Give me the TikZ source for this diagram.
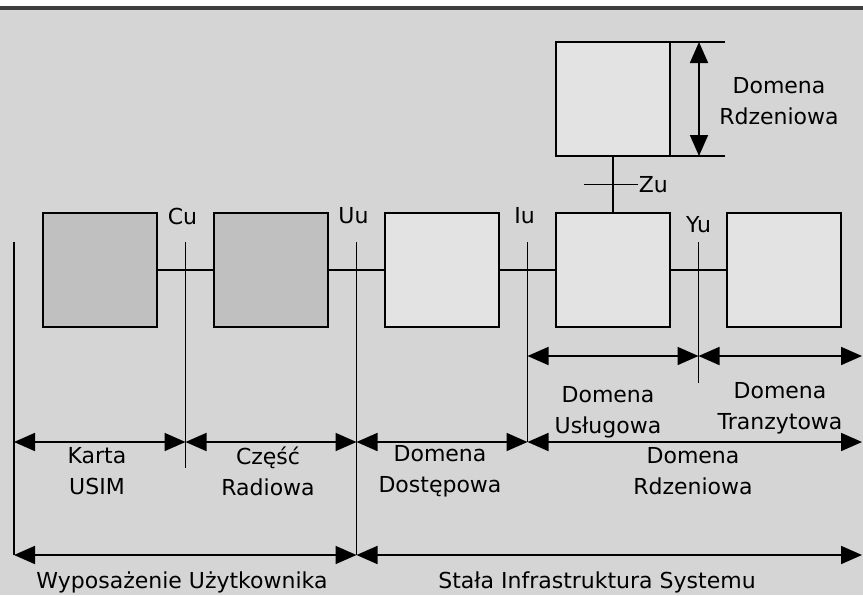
\documentclass[tikz,border=0pt]{standalone}
\usepackage{fontspec}
\setmainfont{DejaVu Sans}
\usetikzlibrary{arrows.meta,positioning,calc}

\definecolor{panelgrey}{RGB}{213,213,213}
\definecolor{boxlight}{RGB}{227,227,227}
\definecolor{boxdark}{RGB}{192,192,192}
\definecolor{bandgrey}{RGB}{62,62,62}

\begin{document}
\begin{tikzpicture}[
    x=1pt, y=-1pt,
    font=\fontsize{22}{31}\selectfont,
    blok/.style={rectangle, draw, line width=1.8pt, minimum width=114pt, minimum height=114pt, inner sep=0pt, outer sep=0pt},
    wire/.style={line width=1.8pt},
    dim/.style={line width=1.8pt, {Triangle[length=21pt,width=18pt]}-{Triangle[length=21pt,width=18pt]}},
    lbl/.style={align=center, inner sep=0pt},
    node distance=57pt
  ]
    % background panel
    \useasboundingbox (0,0) rectangle (863,595);
    \fill[white] (0,0) rectangle (863,595);
    \fill[bandgrey] (0,6) rectangle (863,10);
    \fill[panelgrey] (0,10) rectangle (863,595);

    % blocks
    \node[blok, fill=boxdark] (usim) at (100,270) {};
    \node[blok, fill=boxdark, right=of usim] (radio) {};
    \node[blok, fill=boxlight, right=of radio] (access) {};
    \node[blok, fill=boxlight, right=of access] (serving) {};
    \node[blok, fill=boxlight, right=of serving] (transit) {};
    \node[blok, fill=boxlight, above=of serving] (core) {};

    \draw[wire] (usim) -- (radio);
    \draw[wire] (radio) -- (access);
    \draw[wire] (access) -- (serving);
    \draw[wire] (serving) -- (transit);
    \draw[wire] (core) -- (serving);

    % reference points
    \foreach \a/\b/\n in {usim/radio/cu, radio/access/uu, access/serving/iu, serving/transit/yu}
      \coordinate (\n) at ($(\a.east)!.5!(\b.west)$);
    \coordinate (top) at (14,242);
    \coordinate (rowA) at (862,356);
    \coordinate (rowB) at (862,442);
    \coordinate (rowC) at (862,555);

    % interface lines
    \draw[wire] (top) -- (top |- rowC);
    \draw[wire] (cu |- top) -- ($(cu |- rowB)+(0,26)$);
    \draw[wire] (uu |- top) -- (uu |- rowC);
    \draw[wire] (iu |- top) -- (iu |- rowB);
    \draw[wire] (yu |- top) -- ($(yu |- rowA)+(0,27)$);

    \node (cul) at ($(cu |- top)+(-3,-26)$) {Cu};
    \node (uul) at ($(uu |- top)+(-3,-26)$) {Uu};
    \node (iul) at ($(iu |- top)+(-3,-26)$) {Iu};
    \node (yul) at ($(yu |- top)+(0,-17)$) {Yu};

    % Zu
    \coordinate (zu) at ($(core.south)!.5!(serving.north)$);
    \draw[wire] ($(zu)+(-29,0)$) -- ($(zu)+(25,0)$) node[right, inner sep=0pt] (zul) {Zu};

    % core domain height
    \draw[wire] (core.north east) -- ++(55,0);
    \draw[wire] (core.south east) -- ++(55,0);
    \draw[dim] ($(core.north east)+(29,0)$) -- ($(core.south east)+(29,0)$);
    \node[lbl] (coretxt) at (779,101) {Domena\\Rdzeniowa};

    % domain spans
    \draw[dim] (iu |- rowA) -- (yu |- rowA);
    \draw[dim] (yu |- rowA) -- (rowA);
    \draw[dim] (top |- rowB) -- (cu |- rowB);
    \draw[dim] (cu |- rowB) -- (uu |- rowB);
    \draw[dim] (uu |- rowB) -- (iu |- rowB);
    \draw[dim] (iu |- rowB) -- (rowB);
    \draw[dim] (top |- rowC) -- (uu |- rowC);
    \draw[dim] (uu |- rowC) -- (rowC);

    \node[lbl] (servtxt) at (608,412) {Domena\\Usługowa};
    \node[lbl] (transtxt) at (780,408) {Domena\\Tranzytowa};
    \node[lbl] (usimtxt) at (97,471) {Karta\\USIM};
    \node[lbl] (radiotxt) at (268,471) {Część\\Radiowa};
    \node[lbl] (accesstxt) at (440,471) {Domena\\Dostępowa};
    \node[lbl] (cntxt) at (693,471) {Domena\\Rdzeniowa};
    \node[lbl, anchor=base] (uetxt) at (182,588) {Wyposażenie Użytkownika};
    \node[lbl, anchor=base] (infratxt) at (597,588) {Stała Infrastruktura Systemu};
  \end{tikzpicture}
\end{document}
